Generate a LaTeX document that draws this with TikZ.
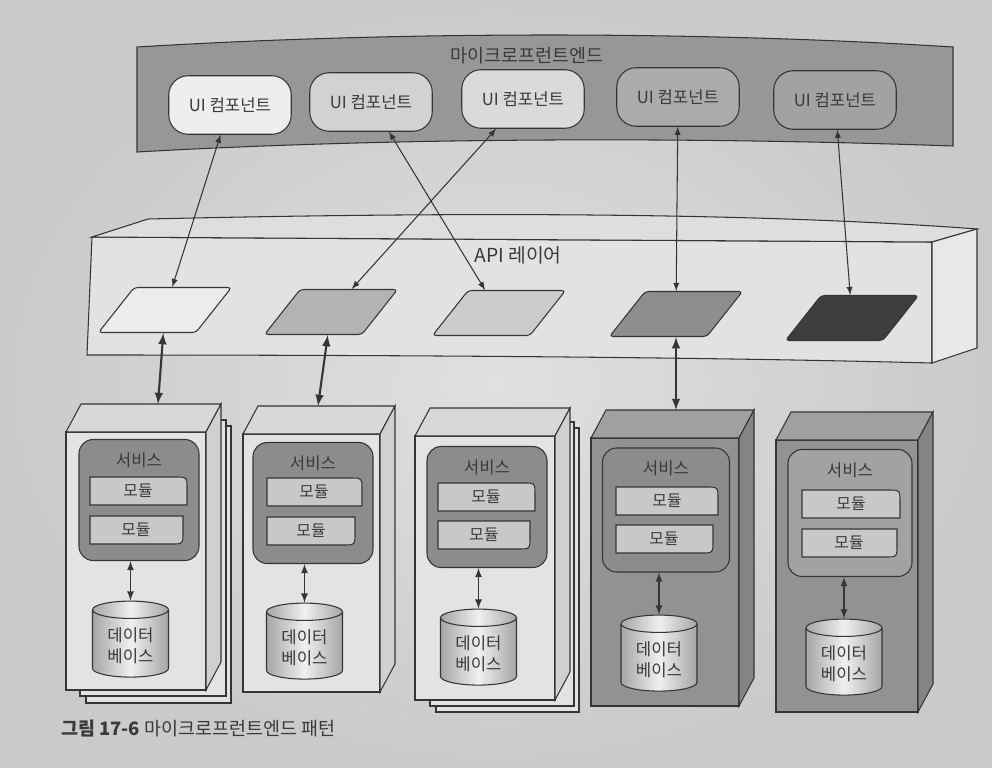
\documentclass[tikz,border=0pt]{standalone}
\usepackage{fontspec}
\setmainfont{Noto Sans CJK KR}
\usetikzlibrary{shapes.geometric}

\definecolor{paper}{HTML}{CACACA}
\definecolor{paperlight}{HTML}{E0E0E0}
\definecolor{ink}{HTML}{353535}
\definecolor{txt}{HTML}{3A3A3A}
\definecolor{banner}{HTML}{979797}
\definecolor{ui1}{HTML}{EEEEEE}
\definecolor{ui2}{HTML}{D2D2D2}
\definecolor{ui3}{HTML}{DADADA}
\definecolor{ui4}{HTML}{ABABAB}
\definecolor{ui5}{HTML}{A2A2A2}
\definecolor{ap1}{HTML}{ECECEC}
\definecolor{ap2}{HTML}{B3B3B3}
\definecolor{ap3}{HTML}{CCCCCC}
\definecolor{ap4}{HTML}{8E8E8E}
\definecolor{ap5}{HTML}{3E3E3E}
\definecolor{layerfront}{HTML}{E2E2E2}
\definecolor{layertop}{HTML}{DEDEDE}
\definecolor{layerside}{HTML}{E8E8E8}
\definecolor{boxlight}{HTML}{E3E3E3}
\definecolor{toplight}{HTML}{D8D8D8}
\definecolor{sidelight}{HTML}{D0D0D0}
\definecolor{boxdark}{HTML}{929292}
\definecolor{topdark}{HTML}{A0A0A0}
\definecolor{sidedark}{HTML}{848484}
\definecolor{srvgray}{HTML}{8C8C8C}
\definecolor{srvlight}{HTML}{A2A2A2}
\definecolor{module}{HTML}{C8C8C8}

\tikzset{
  edge/.style={draw=ink, line width=0.6pt},
  uicomp/.style={edge, rounded corners=11pt, minimum width=2.45cm, minimum height=1.17cm,
    font=\fontsize{9.5}{11}\selectfont, text=txt},
  endpoint/.style={edge, trapezium, trapezium left angle=60, trapezium right angle=120,
    trapezium stretches=true, minimum width=2.66cm, minimum height=0.9cm, rounded corners=2pt},
  svlabel/.style={anchor=north, yshift=-4pt, font=\fontsize{9.5}{11}\selectfont, text=txt},
  service/.style={edge, rounded corners=8pt, minimum width=2.4cm, minimum height=2.42cm,
    label={[svlabel]north:서비스}},
  modbox/.style={edge, fill=module},
  modtext/.style={font=\fontsize{9}{10}\selectfont, text=txt},
  dbase/.style={edge, cylinder, shape border rotate=90, aspect=0.3,
    minimum width=1.52cm, minimum height=1.52cm,
    left color=gray!70, right color=gray!70, middle color=gray!12,
    align=center, font=\fontsize{9.5}{12}\selectfont, text=txt},
  link/.style={draw=ink, line width=0.6pt, latex-latex},
  trunk/.style={draw=ink, very thick, latex-latex},
  dblink/.style={draw=ink, line width=0.8pt, latex-latex}
}

\begin{document}
\begin{tikzpicture}[x=0.02cm,y=-0.02cm]
    % paper
    \shade[inner color=paperlight, outer color=paper] (0,0) rectangle (992,768);
    \useasboundingbox (0,0) rectangle (992,768);

    % micro frontend band
    \draw[edge, fill=banner] (137,47) .. controls (400,31) and (700,31) .. (953,47)
        -- (953,146) .. controls (700,137) and (400,137) .. (137,152) -- cycle;
    \node[font=\fontsize{10.5}{12}\selectfont, text=txt] (mfe) at (527,56) {마이크로프런트엔드};

    \node[uicomp, fill=ui1] (ui1) at (230,105) {UI 컴포넌트};
    \node[uicomp, fill=ui2] (ui2) at (371,102) {UI 컴포넌트};
    \node[uicomp, fill=ui3] (ui3) at (523,99) {UI 컴포넌트};
    \node[uicomp, fill=ui4] (ui4) at (678,97) {UI 컴포넌트};
    \node[uicomp, fill=ui5] (ui5) at (835,100) {UI 컴포넌트};

    % API layer
    \draw[edge, fill=layerfront] (92,237) -- (932,242) -- (932,363)
        .. controls (700,357) and (400,355) .. (87,355) -- cycle;
    \draw[edge, fill=layertop] (92,237) -- (148,219) .. controls (450,212) and (750,212) .. (977,229)
        -- (932,242) -- cycle;
    \draw[edge, fill=layerside] (932,242) -- (977,229) -- (977,348) -- (932,363) -- cycle;
    \node[font=\fontsize{11}{13}\selectfont, text=txt] (apititle) at (518,255) {API 레이어};

    \node[endpoint, fill=ap1] (api1) at (165,310) {};
    \node[endpoint, fill=ap2] (api2) at (331,312) {};
    \node[endpoint, fill=ap3] (api3) at (499,313) {};
    \node[endpoint, fill=ap4] (api4) at (676,314) {};
    \node[endpoint, fill=ap5] (api5) at (852,318) {};

    \draw[link] (ui1) -- (api1);
    \draw[link] (ui2) -- (api3);
    \draw[link] (ui3) -- (api2);
    \draw[link] (ui4) -- (api4);
    \draw[link] (ui5) -- (api5);

    % box 1 (with copies)
    \draw[edge, fill=boxlight] (86,426) rectangle (231,703);
    \draw[edge, fill=boxlight] (80,420) rectangle (226,696);
    \draw[edge, fill=boxlight] (66,432) rectangle (206,690);
    \draw[edge, fill=toplight] (66,432) -- (81,404) -- (221,404) -- (206,432) -- cycle;
    \draw[edge, fill=sidelight] (206,432) -- (221,404) -- (221,662) -- (206,690) -- cycle;
    \coordinate (top1) at (158,404);

    % box 2
    \draw[edge, fill=boxlight] (243,434) rectangle (380,692);
    \draw[edge, fill=toplight] (243,434) -- (258,406) -- (395,406) -- (380,434) -- cycle;
    \draw[edge, fill=sidelight] (380,434) -- (395,406) -- (395,664) -- (380,692) -- cycle;
    \coordinate (top2) at (318,406);

    % box 3 (with copies)
    \draw[edge, fill=boxlight] (436,428) rectangle (579,712);
    \draw[edge, fill=boxlight] (430,422) rectangle (574,706);
    \draw[edge, fill=boxlight] (415,436) rectangle (555,700);
    \draw[edge, fill=toplight] (415,436) -- (430,408) -- (570,408) -- (555,436) -- cycle;
    \draw[edge, fill=sidelight] (555,436) -- (570,408) -- (570,672) -- (555,700) -- cycle;

    % box 4
    \draw[edge, fill=boxdark] (591,438) rectangle (739,706);
    \draw[edge, fill=topdark] (591,438) -- (606,410) -- (754,410) -- (739,438) -- cycle;
    \draw[edge, fill=sidedark] (739,438) -- (754,410) -- (754,678) -- (739,706) -- cycle;
    \coordinate (top4) at (676,410);

    % box 5
    \draw[edge, fill=boxdark] (776,440) rectangle (918,712);
    \draw[edge, fill=topdark] (776,440) -- (791,412) -- (933,412) -- (918,440) -- cycle;
    \draw[edge, fill=sidedark] (918,440) -- (933,412) -- (933,684) -- (918,712) -- cycle;

    \draw[trunk] (api1) -- (top1);
    \draw[trunk] (api2) -- (top2);
    \draw[trunk] (api4) -- (top4);

    % services
    \node[service, fill=srvgray] (srv1) at (139,500) {};
    \node[service, fill=srvgray] (srv2) at (313,503) {};
    \node[service, fill=srvgray] (srv3) at (487,507) {};
    \node[service, fill=srvgray, minimum width=2.54cm, minimum height=2.48cm] (srv4) at (666,510) {};
    \node[service, fill=srvlight, minimum width=2.48cm, minimum height=2.54cm] (srv5) at (850,513) {};

    % modules
    \draw[modbox] (90,505) -- (90,477) -- (175,477) .. controls (187,477) .. (187,489) -- (187,505) -- cycle;
    \node[modtext] (mod11) at (138,491) {모듈};
    \draw[modbox] (90,516) -- (183,516) -- (183,532) .. controls (183,544) .. (171,544) -- (90,544) -- cycle;
    \node[modtext] (mod12) at (136,530) {모듈};

    \draw[modbox] (267,506) -- (267,478) -- (350,478) .. controls (362,478) .. (362,490) -- (362,506) -- cycle;
    \node[modtext] (mod21) at (314,492) {모듈};
    \draw[modbox] (267,517) -- (355,517) -- (355,533) .. controls (355,545) .. (343,545) -- (267,545) -- cycle;
    \node[modtext] (mod22) at (311,531) {모듈};

    \draw[modbox] (438,511) -- (438,483) -- (523,483) .. controls (535,483) .. (535,495) -- (535,511) -- cycle;
    \node[modtext] (mod31) at (486,497) {모듈};
    \draw[modbox] (438,521) -- (530,521) -- (530,537) .. controls (530,549) .. (518,549) -- (438,549) -- cycle;
    \node[modtext] (mod32) at (484,535) {모듈};

    \draw[modbox] (616,515) -- (616,487) -- (706,487) .. controls (718,487) .. (718,499) -- (718,515) -- cycle;
    \node[modtext] (mod41) at (667,501) {모듈};
    \draw[modbox] (616,525) -- (713,525) -- (713,541) .. controls (713,553) .. (701,553) -- (616,553) -- cycle;
    \node[modtext] (mod42) at (664,539) {모듈};

    \draw[modbox] (802,518) -- (802,490) -- (888,490) .. controls (900,490) .. (900,502) -- (900,518) -- cycle;
    \node[modtext] (mod51) at (851,504) {모듈};
    \draw[modbox] (802,529) -- (897,529) -- (897,545) .. controls (897,557) .. (885,557) -- (802,557) -- cycle;
    \node[modtext] (mod52) at (849,543) {모듈};

    % databases
    \node[dbase] (db1) at (130.5,646) {데이터\\베이스};
    \node[dbase] (db2) at (304.5,648) {데이터\\베이스};
    \node[dbase] (db3) at (478.5,654) {데이터\\베이스};
    \node[dbase] (db4) at (659,660) {데이터\\베이스};
    \node[dbase] (db5) at (844,664) {데이터\\베이스};

    \draw[dblink] (db1.north |- srv1.south) -- (db1.north);
    \draw[dblink] (db2.north |- srv2.south) -- (db2.north);
    \draw[dblink] (db3.north |- srv3.south) -- (db3.north);
    \draw[dblink] (db4.north |- srv4.south) -- (db4.north);
    \draw[dblink] (db5.north |- srv5.south) -- (db5.north);

    % caption
    \node[anchor=west, font=\fontsize{10.5}{12}\selectfont, text=txt] (caption) at (55,729)
        {\textbf{그림 17-6} 마이크로프런트엔드 패턴};
\end{tikzpicture}
\end{document}
